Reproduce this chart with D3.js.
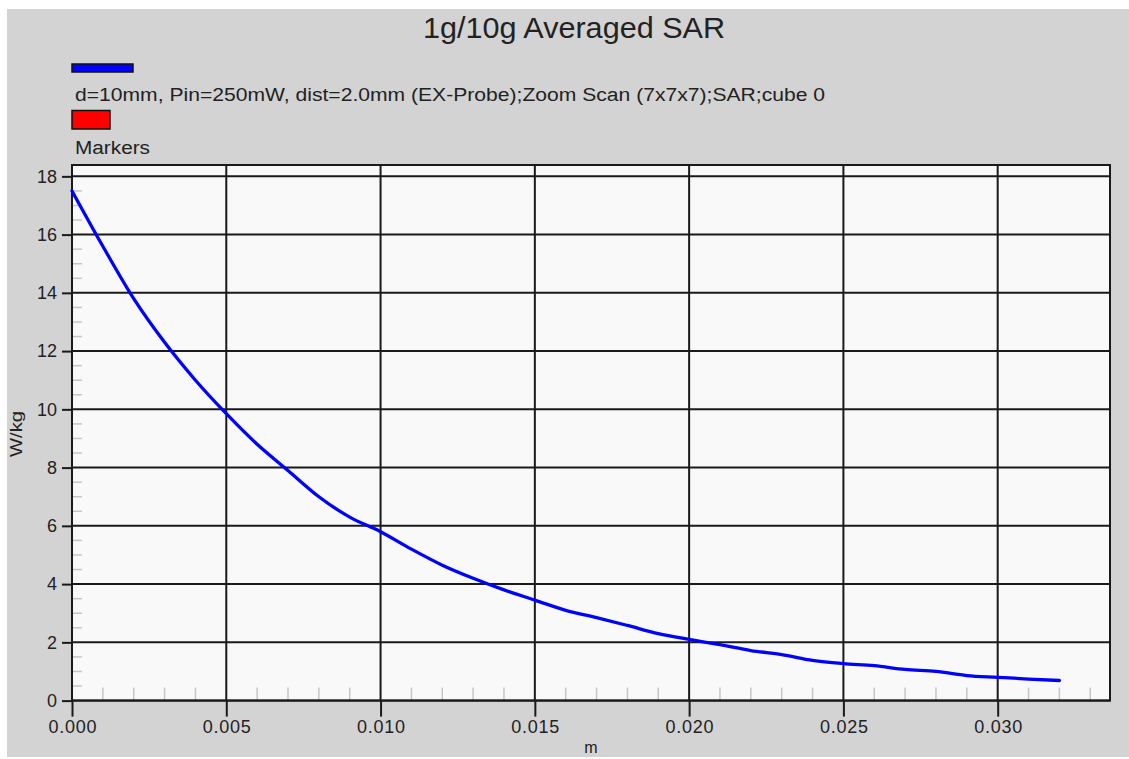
<!DOCTYPE html>
<html>
<head>
<meta charset="utf-8">
<script src="https://cdn.jsdelivr.net/npm/d3@7"></script>
<style>
  body { margin: 0; background: #fff; }
  svg { display: block; font-family: Arial, "Liberation Sans", sans-serif; }
</style>
</head>
<body>
<svg id="chart"></svg>
<script>
// Chart size
const WIDTH = 1129;
const HEIGHT = 759;

// Series: distance from surface (m) and averaged SAR (W/kg)
const DIST = [0.000, 0.001, 0.002, 0.003, 0.004, 0.005, 0.006, 0.007, 0.008, 0.009,
              0.010, 0.011, 0.012, 0.013, 0.014, 0.015, 0.016, 0.017, 0.018, 0.019,
              0.020, 0.021, 0.022, 0.023, 0.024, 0.025, 0.026, 0.027, 0.028, 0.029,
              0.030, 0.031, 0.032];
const SAR = [17.5, 15.6, 13.8, 12.3, 11.0, 9.85, 8.8, 7.9, 7.0, 6.3,
             5.8, 5.2, 4.65, 4.2, 3.8, 3.45, 3.1, 2.85, 2.58, 2.3,
             2.1, 1.92, 1.72, 1.58, 1.38, 1.27, 1.2, 1.07, 1.0, 0.86,
             0.8, 0.74, 0.69];

// Tick labels
const X_TICKS = [0.000, 0.005, 0.010, 0.015, 0.020, 0.025, 0.030];
const Y_TICKS = [0, 2, 4, 6, 8, 10, 12, 14, 16, 18];

const TITLE = '1g/10g Averaged SAR';
const LEGEND = ['d=10mm, Pin=250mW, dist=2.0mm (EX-Probe);Zoom Scan (7x7x7);SAR;cube 0', 'Markers'];

// Plot frame
const PLOT = {left: 72, right: 1110, top: 165, bottom: 700.6};

const svg = d3.select('svg#chart').attr('width', WIDTH).attr('height', HEIGHT);

// Grey panel behind everything
svg.append('rect')
    .attr('x', 7).attr('y', 9)
    .attr('width', WIDTH - 7).attr('height', 748)
    .attr('fill', '#d3d3d3');

const x = d3.scaleLinear().domain([0, 0.03364]).range([PLOT.left, PLOT.right]);
const y = d3.scaleLinear().domain([0, 18.39]).range([PLOT.bottom, PLOT.top]);

// Plot background
svg.append('rect')
    .attr('x', PLOT.left).attr('y', PLOT.top)
    .attr('width', PLOT.right - PLOT.left).attr('height', PLOT.bottom - PLOT.top)
    .attr('fill', '#f9f9f9');

// Minor ticks (grey, inside the frame)
const minorX = d3.range(1, 34).map(i => i * 0.001).filter(v => Math.round(v * 1000) % 5 != 0);
const minorY = d3.range(1, 37).map(i => i * 0.5).filter(v => v % 2 != 0);

svg.append('g').selectAll('line').data(minorX).join('line')
    .attr('x1', d => x(d)).attr('x2', d => x(d))
    .attr('y1', PLOT.bottom).attr('y2', PLOT.bottom - 13)
    .attr('stroke', '#c6c6c6').attr('stroke-width', 1.5);

svg.append('g').selectAll('line').data(minorY).join('line')
    .attr('x1', PLOT.left).attr('x2', PLOT.left + 10)
    .attr('y1', d => y(d)).attr('y2', d => y(d))
    .attr('stroke', '#c6c6c6').attr('stroke-width', 1.5);

// Grid lines
svg.append('g').selectAll('line').data(X_TICKS).join('line')
    .attr('x1', d => x(d)).attr('x2', d => x(d))
    .attr('y1', PLOT.top).attr('y2', PLOT.bottom)
    .attr('stroke', '#1a1a1a').attr('stroke-width', 2);

svg.append('g').selectAll('line').data(Y_TICKS).join('line')
    .attr('x1', PLOT.left).attr('x2', PLOT.right)
    .attr('y1', d => y(d)).attr('y2', d => y(d))
    .attr('stroke', '#1a1a1a').attr('stroke-width', 2);

// Frame
svg.append('rect')
    .attr('x', PLOT.left).attr('y', PLOT.top)
    .attr('width', PLOT.right - PLOT.left).attr('height', PLOT.bottom - PLOT.top)
    .attr('fill', 'none').attr('stroke', '#1a1a1a').attr('stroke-width', 2);

// Axes
const xAxis = svg.append('g')
    .attr('transform', `translate(0,${PLOT.bottom})`)
    .call(d3.axisBottom(x).tickValues(X_TICKS).tickFormat(d3.format('.3f')).tickSize(16).tickPadding(4));
const yAxis = svg.append('g')
    .attr('transform', `translate(${PLOT.left},0)`)
    .call(d3.axisLeft(y).tickValues(Y_TICKS).tickFormat(d3.format('d')).tickSize(10).tickPadding(5));

[xAxis, yAxis].forEach(ax => {
    ax.select('.domain').remove();
    ax.selectAll('.tick line').attr('stroke', '#1a1a1a').attr('stroke-width', 2);
    ax.selectAll('.tick text')
        .attr('fill', '#222')
        .style('font-size', '18px')
        .style('font-family', 'Arial, "Liberation Sans", sans-serif');
});
xAxis.selectAll('.tick text').attr('textLength', 48).attr('lengthAdjust', 'spacing');

// The curve
const line = d3.line()
    .x(d => x(d[0]))
    .y(d => y(d[1]))
    .curve(d3.curveMonotoneX);

svg.append('path')
    .datum(d3.zip(DIST, SAR))
    .attr('d', line)
    .attr('fill', 'none')
    .attr('stroke', '#0000ff')
    .attr('stroke-width', 3.3)
    .attr('stroke-linejoin', 'round')
    .attr('stroke-linecap', 'round');

// Title
svg.append('text')
    .attr('x', 574).attr('y', 38)
    .attr('text-anchor', 'middle')
    .attr('fill', '#222')
    .style('font-size', '29px')
    .attr('textLength', 302).attr('lengthAdjust', 'spacingAndGlyphs')
    .text(TITLE);

// Legend
svg.append('rect')
    .attr('x', 72).attr('y', 64).attr('width', 61).attr('height', 8)
    .attr('fill', '#0000ff').attr('stroke', '#111').attr('stroke-width', 1.5);
svg.append('text')
    .attr('x', 75).attr('y', 101)
    .attr('fill', '#222').style('font-size', '18px')
    .attr('textLength', 750).attr('lengthAdjust', 'spacingAndGlyphs')
    .text(LEGEND[0]);

svg.append('rect')
    .attr('x', 72).attr('y', 110.5).attr('width', 38).attr('height', 18.5)
    .attr('fill', '#ff0000').attr('stroke', '#111').attr('stroke-width', 1.5);
svg.append('text')
    .attr('x', 75).attr('y', 154)
    .attr('fill', '#222').style('font-size', '18px')
    .attr('textLength', 75).attr('lengthAdjust', 'spacingAndGlyphs')
    .text(LEGEND[1]);

// Axis titles
svg.append('text')
    .attr('transform', 'translate(22,434) rotate(-90)')
    .attr('text-anchor', 'middle')
    .attr('fill', '#222').style('font-size', '16px')
    .attr('textLength', 46).attr('lengthAdjust', 'spacingAndGlyphs')
    .text('W/kg');

svg.append('text')
    .attr('x', (PLOT.left + PLOT.right) / 2).attr('y', 753)
    .attr('text-anchor', 'middle')
    .attr('fill', '#222').style('font-size', '16px')
    .text('m');
</script>
</body>
</html>
